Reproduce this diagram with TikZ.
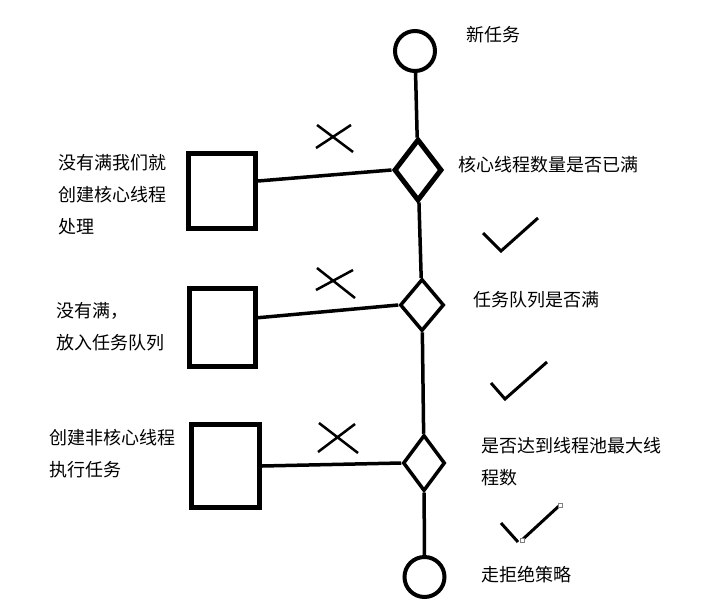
\documentclass[tikz,border=0pt]{standalone}
\usepackage{fontspec}
\newfontfamily\cjk{Noto Sans CJK SC}
\usetikzlibrary{shapes.geometric}

\begin{document}
\begin{tikzpicture}[x=1pt, y=-1pt,
	note/.style={font=\cjk\fontsize{18}{32}\selectfont, align=left, anchor=west, inner sep=0pt},
	endpoint/.style={draw, circle, line width=4pt, minimum size=40pt, inner sep=0pt},
	cond/.style={draw, diamond, inner sep=0pt},
	work/.style={draw, rectangle, line width=5pt, inner sep=0pt},
	link/.style={line width=3.5pt},
	crossmark/.style={line width=2.5pt},
	tickmark/.style={line width=3pt}]
	\useasboundingbox (0,0) rectangle (717,608);
	
	\node[endpoint] (task) at (415,51) {};
	
	\node[cond, line width=5pt, minimum width=48pt, minimum height=62pt] (core) at (418,170) {};
	
	\node[cond, line width=3.5pt, minimum width=44pt, minimum height=52pt] (queue) at (422,305) {};
	
	\node[cond, line width=3.5pt, minimum width=42pt, minimum height=56pt] (pool) at (424,463) {};
	
	\node[endpoint] (reject) at (424.5,577) {};
	
	\node[work, minimum width=67pt, minimum height=75pt] (corebox) at (222,190.5) {};
	
	\node[work, minimum width=66pt, minimum height=78pt] (queuebox) at (222.5,327.5) {};
	
	\node[work, minimum width=68pt, minimum height=83pt] (extrabox) at (225.5,466) {};
	
	\node[note] (tasklbl) at (466,35) {新任务};
	\node[note] (corelbl) at (458,165) {核心线程数量是否已满};
	\node[note] (queuelbl) at (473,300) {任务队列是否满};
	\node[note] (poollbl) at (481,462) {是否达到线程池最大线\\程数};
	\node[note] (rejectlbl) at (481,575) {走拒绝策略};
	
	\node[note] (corenote) at (58,195) {没有满我们就\\创建核心线程\\处理};
	\node[note] (queuenote) at (56,326.5) {没有满，\\放入任务队列};
	\node[note] (extranote) at (49,454) {创建非核心线程\\执行任务};
	
	\draw[link] (task) -- (core);
	
	\draw[link] (core) -- (queue);
	
	\draw[link] (queue) -- (pool);
	
	\draw[link] (pool) -- (reject);
	
	\draw[link] ([yshift=9.5pt]corebox.east) -- (core.west);
	
	\draw[link] ([xshift=-3pt, yshift=9.5pt]queuebox.east) -- (queue.west);
	
	\draw[link] (extrabox.east) -- (pool.west);
	
	% crosses and ticks
	\draw[crossmark] (317,125) -- (353,152) (316,148) -- (351,125);
	\draw[crossmark] (317,268) -- (355,298) (316,290) -- (353,270);
	\draw[crossmark] (319,423) -- (358,453) (318,452) -- (355,424);
	
	\draw[tickmark] (483,233) -- (501,251) -- (538,218);
	\draw[tickmark] (491,383) -- (505,399) -- (547,362);
	\draw[tickmark] (501,523) -- (518,542) (522,540) -- (560,505);
	\draw[gray, fill=white, line width=0.6pt] (520,538) rectangle (524,542) (558,503) rectangle (562,507);
\end{tikzpicture}
\end{document}
